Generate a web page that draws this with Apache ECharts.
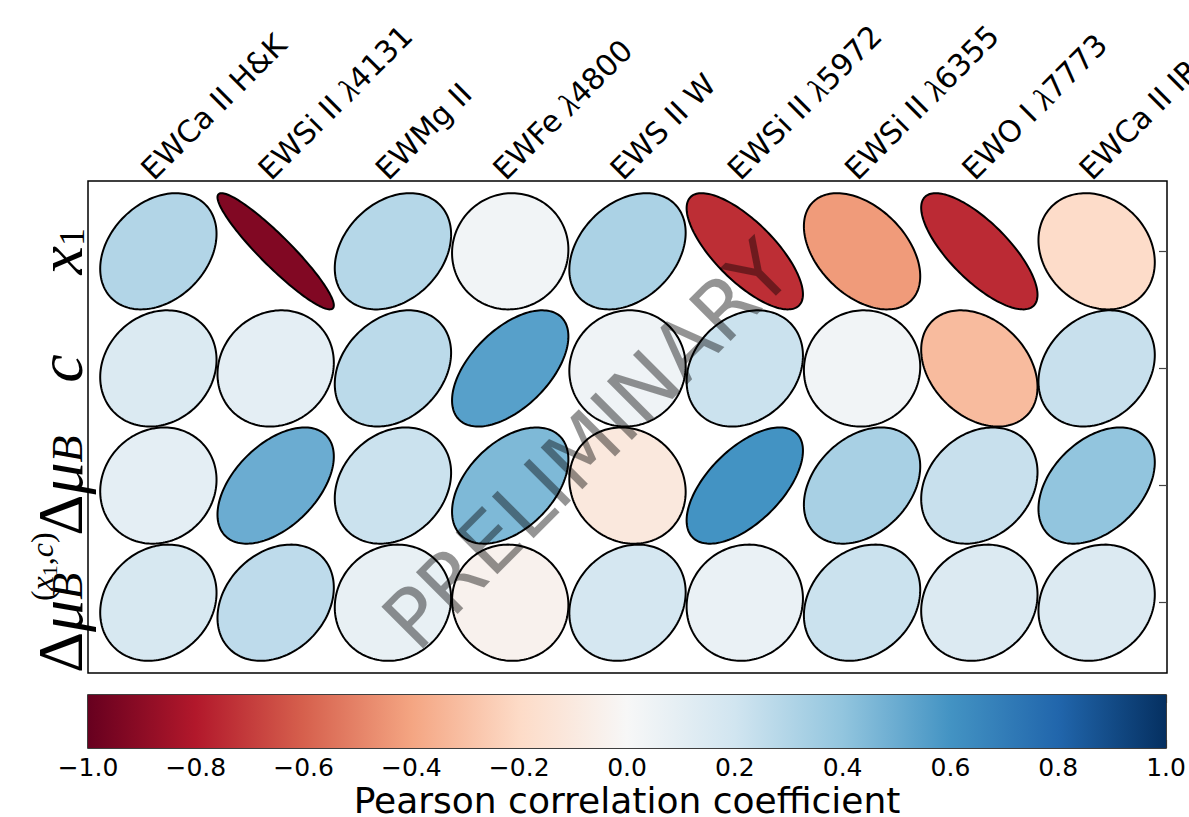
<!DOCTYPE html>
<html>
<head>
<meta charset="utf-8">
<script src="https://cdn.jsdelivr.net/npm/echarts@6/dist/echarts.min.js"></script>
<style>
html,body{margin:0;padding:0;background:#fff;}
#chart{width:1189px;height:817px;}
</style>
</head>
<body>
<div id="chart"></div>
<script>
// ---- data ----
const columns = ['EWCa II H&K', 'EWSi II λ4131', 'EWMg II', 'EWFe λ4800', 'EWS II W',
                 'EWSi II λ5972', 'EWSi II λ6355', 'EWO I λ7773', 'EWCa II IR'];
const rowNames = ['x1', 'c', 'ΔμB', 'ΔμB(x1,c)'];
const r_x1       = [0.30, -0.93, 0.29, 0.03, 0.32, -0.74, -0.43, -0.75, -0.19];
const r_c        = [0.15, 0.10, 0.27, 0.55, 0.04, 0.22, 0.03, -0.32, 0.23];
const r_dmuB     = [0.10, 0.50, 0.22, 0.45, -0.11, 0.60, 0.33, 0.23, 0.40];
const r_dmuBx1c  = [0.17, 0.26, 0.08, -0.04, 0.18, 0.07, 0.22, 0.14, 0.14];
const colorbarRange = [-1, 1];
const colorbarTicks = [-1.0, -0.8, -0.6, -0.4, -0.2, 0.0, 0.2, 0.4, 0.6, 0.8, 1.0];
const watermark = 'PRELIMINARY';
const colorbarTitle = 'Pearson correlation coefficient';

// ---- colormap (matplotlib RdBu) ----
const RDBU = ['#67001f','#b2182b','#d6604d','#f4a582','#fddbc7','#f7f7f7',
              '#d1e5f0','#92c5de','#4393c3','#2166ac','#053061'];
function hex2rgb(h){return [parseInt(h.slice(1,3),16),parseInt(h.slice(3,5),16),parseInt(h.slice(5,7),16)];}
const RDBU_RGB = RDBU.map(hex2rgb);
function rdbu(v){
  let t = (v + 1) / 2; t = Math.max(0, Math.min(1, t));
  const p = t * 10; const i = Math.min(9, Math.floor(p)); const f = p - i;
  const a = RDBU_RGB[i], b = RDBU_RGB[i+1];
  return 'rgb(' + [0,1,2].map(k => Math.round(a[k] + (b[k]-a[k]) * f)).join(',') + ')';
}

const allRows = [r_x1, r_c, r_dmuB, r_dmuBx1c];
const cells = [];
for (let c = 0; c < columns.length; c++) {
  for (let r = 0; r < allRows.length; r++) {
    cells.push([c, r, allRows[r][c]]);
  }
}
const colIdx = columns.map((_, i) => i);
const rowIdx = rowNames.map((_, i) => i);

function colLabel(v) {
  const s = columns[Math.round(v)];
  if (s === undefined) return '';
  const k = s.indexOf('λ');
  if (k < 0) return '{t|' + s + '}';
  return '{t|' + s.slice(0, k) + '}{l|λ}{t|' + s.slice(k + 1) + '}';
}
function rowLabel(v) {
  const i = Math.round(v);
  if (i === 0) return '{mi|x}{subn|1}';
  if (i === 1) return '{mi|c}';
  if (i === 2) return '{up|Δ}{mi|μ}{sub|B}';
  if (i === 3) return '{sp|}{supp|(}{supi|x}{supsub|1}{supp|,}{supi|c}{supp|)}\n{up|Δ}{mi|μ}{sub|B}';
  return '';
}

const SERIF = '"Liberation Serif", "DejaVu Serif", serif';
const SANS = '"DejaVu Sans", sans-serif';

const rowRich = {
  mi: {fontFamily: SERIF, fontStyle: 'italic', fontSize: 64, color: '#000', lineHeight: 54, align: 'left'},
  up: {fontFamily: SERIF, fontSize: 64, color: '#000', lineHeight: 54, align: 'left'},
  sub: {fontFamily: SERIF, fontStyle: 'italic', fontSize: 44, color: '#000', lineHeight: 1, height: 0,
        verticalAlign: 'top', padding: [34, 0, 0, 0], align: 'left'},
  subn: {fontFamily: SERIF, fontSize: 36, color: '#000', lineHeight: 1, height: 0,
         verticalAlign: 'top', padding: [39, 0, 0, 0], align: 'left'},
  sp: {width: 72, align: 'left', lineHeight: 1, height: 0},
  supp: {fontFamily: SERIF, fontSize: 32, color: '#000', lineHeight: 1, height: 0,
         verticalAlign: 'top', padding: [10, 0, 0, 0], align: 'left'},
  supi: {fontFamily: SERIF, fontStyle: 'italic', fontSize: 32, color: '#000', lineHeight: 1, height: 0,
         verticalAlign: 'top', padding: [10, 0, 0, 0], align: 'left'},
  supsub: {fontFamily: SERIF, fontSize: 22, color: '#000', lineHeight: 1, height: 0,
           verticalAlign: 'top', padding: [17, 0, 0, 0], align: 'left'}
};

const chart = echarts.init(document.getElementById('chart'), null, {renderer: 'svg'});
const option = {
  animation: false,
  backgroundColor: '#fff',
  grid: [
    {left: 88, top: 181, width: 1079, height: 492, outerBoundsMode: 'none', containLabel: false,
     show: true, borderColor: '#000', borderWidth: 1.5, backgroundColor: 'transparent'},
    {left: 88, top: 695, width: 1078, height: 53, outerBoundsMode: 'none', containLabel: false,
     show: true, borderColor: '#000', borderWidth: 1.5, backgroundColor: 'transparent'}
  ],
  xAxis: [
    {
      gridIndex: 0, type: 'value', min: -0.6, max: 8.6, position: 'top',
      axisLine: {show: false}, splitLine: {show: false},
      axisTick: {show: false, customValues: colIdx},
      axisLabel: {
        customValues: colIdx, rotate: 45, margin: -5, verticalAlign: 'bottom', formatter: colLabel,
        hideOverlap: false, showMinLabel: true, showMaxLabel: true,
        rich: {
          t: {fontFamily: SANS, fontSize: 30, color: '#000', lineHeight: 34},
          l: {fontFamily: SERIF, fontStyle: 'italic', fontSize: 32, color: '#000', lineHeight: 34}
        }
      }
    },
    {
      gridIndex: 1, type: 'value', min: colorbarRange[0], max: colorbarRange[1], interval: 0.2, position: 'bottom',
      axisLine: {show: false}, splitLine: {show: false},
      axisTick: {show: true, inside: true, length: 8, lineStyle: {color: '#333', width: 1.2}},
      axisLabel: {
        show: true, margin: 7, fontFamily: SANS, fontSize: 25, lineHeight: 24, color: '#000',
        showMinLabel: true, showMaxLabel: true, hideOverlap: false,
        formatter: v => (v < -1e-9 ? '\u2212' : '') + Math.abs(v).toFixed(1)
      },
      name: colorbarTitle, nameLocation: 'middle', nameGap: 37,
      nameTextStyle: {fontFamily: SANS, fontSize: 36, lineHeight: 30, color: '#000', verticalAlign: 'top'}
    },
    {
      gridIndex: 1, type: 'value', min: colorbarRange[0], max: colorbarRange[1], interval: 0.2, position: 'top',
      axisLine: {show: false}, splitLine: {show: false},
      axisTick: {show: true, inside: true, length: 8, lineStyle: {color: '#333', width: 1.2}},
      axisLabel: {show: false}
    }
  ],
  yAxis: [
    {
      gridIndex: 0, type: 'value', min: -0.6, max: 3.6, inverse: true, position: 'left',
      axisLine: {show: false}, splitLine: {show: false},
      axisTick: {show: true, inside: true, length: 8, customValues: rowIdx, lineStyle: {color: '#444', width: 1.2}},
      axisLabel: {
        customValues: rowIdx.slice(0, 3), rotate: 90, margin: 1, formatter: rowLabel,
        hideOverlap: false, showMinLabel: true, showMaxLabel: true, rich: rowRich
      }
    },
    {
      gridIndex: 0, type: 'value', min: -0.6, max: 3.6, inverse: true, position: 'right',
      axisLine: {show: false}, splitLine: {show: false},
      axisTick: {show: true, inside: true, length: 8, customValues: rowIdx, lineStyle: {color: '#444', width: 1.2}},
      axisLabel: {show: false}
    },
    {
      gridIndex: 1, type: 'value', min: 0, max: 1, show: false
    },
    {
      gridIndex: 0, type: 'value', min: -0.6, max: 3.6, inverse: true, position: 'left', offset: 0,
      axisLine: {show: false}, splitLine: {show: false},
      axisTick: {show: false},
      axisLabel: {
        customValues: rowIdx.slice(3), rotate: 90, margin: 1, formatter: rowLabel,
        hideOverlap: false, showMinLabel: true, showMaxLabel: true, rich: rowRich
      }
    }
  ],
  series: [
    {
      type: 'custom', xAxisIndex: 0, yAxisIndex: 0, data: cells, clip: false,
      renderItem: function (params, api) {
        const col = api.value(0), row = api.value(1), r = api.value(2);
        const c = api.coord([col, row]);
        const ux = api.size([1, 0])[0], uy = api.size([0, 1])[1];
        const phi = Math.acos(Math.max(-1, Math.min(1, r)));
        const S = 0.496;
        const pts = [];
        const N = 160;
        for (let k = 0; k < N; k++) {
          const t = 2 * Math.PI * k / N;
          pts.push([c[0] + S * Math.cos(t) * ux, c[1] - S * Math.cos(t - phi) * uy]);
        }
        return {
          type: 'polygon', shape: {points: pts},
          style: {fill: rdbu(r), stroke: '#000', lineWidth: 2}
        };
      }
    },
    {
      type: 'custom', xAxisIndex: 1, yAxisIndex: 2, data: [[colorbarRange[0], 0, colorbarRange[1], 1]],
      renderItem: function (params, api) {
        const p0 = api.coord([api.value(0), api.value(3)]);
        const p1 = api.coord([api.value(2), api.value(1)]);
        const stops = RDBU.map((col, i) => ({offset: i / 10, color: col}));
        return {
          type: 'rect', shape: {x: p0[0], y: p0[1], width: p1[0] - p0[0], height: p1[1] - p0[1]},
          style: {fill: new echarts.graphic.LinearGradient(0, 0, 1, 0, stops)},
          z2: -1
        };
      }
    }
  ],
  graphic: [
    {
      type: 'text', x: 587, y: 445, rotation: Math.PI / 4, z: 100,
      style: {text: watermark, font: '81px "DejaVu Sans"', fill: 'rgba(0,0,0,0.42)', align: 'center', verticalAlign: 'middle'}
    }
  ]
};
chart.setOption(option);
</script>
</body>
</html>
